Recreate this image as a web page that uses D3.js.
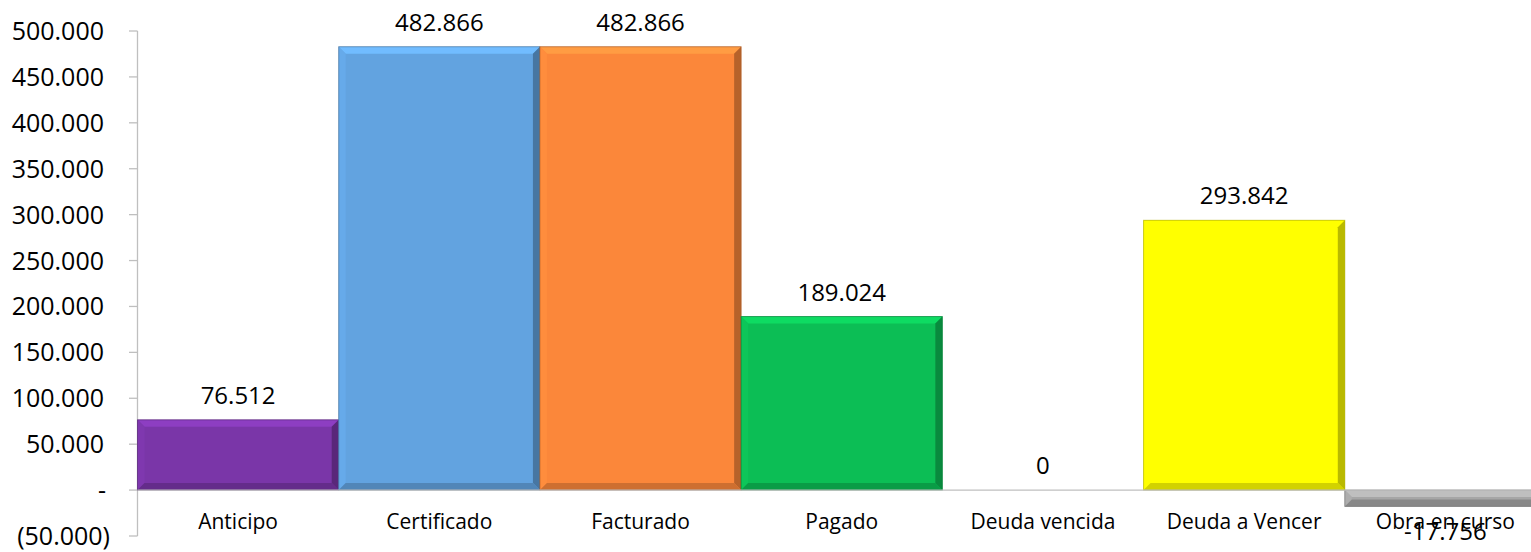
<!DOCTYPE html>
<html><head><meta charset="utf-8">
<script src="https://cdn.jsdelivr.net/npm/d3@7"></script>
<style>
html,body{margin:0;padding:0;background:#fff;overflow:hidden;}
text{font-family:"Open Sans",sans-serif;fill:#000;}
</style></head>
<body><svg id="c" width="1531" height="552"></svg>
<script>
const categories = ["Anticipo","Certificado","Facturado","Pagado","Deuda vencida","Deuda a Vencer","Obra en curso"];
const values = [76512, 482866, 482866, 189024, 0, 293842, -17756];
const colors = ["#7a36a8","#62a3e0","#fb873a","#0cbe55","#a6a6a6","#ffff00","#a6a6a6"];
const tickValues = [-50000,0,50000,100000,150000,200000,250000,300000,350000,400000,450000,500000];

const svg = d3.select("#c");
const x = d3.scaleBand().domain(categories).range([137.5, 1546]).padding(0);
const y = d3.scaleLinear().domain([-50000, 500000]).range([536, 31]);

const fmtNum = v => d3.format(",")(Math.abs(v)).replace(/,/g, ".");
const tickFmt = v => v === 0 ? "-" : (v < 0 ? "(" + fmtNum(v) + ")" : fmtNum(v));
const labelFmt = v => v === 0 ? "0" : (v < 0 ? "-" + fmtNum(v) : fmtNum(v));

// axis
const axisG = svg.append("g");
axisG.append("line").attr("x1", 137.5).attr("x2", 137.5).attr("y1", y(500000)).attr("y2", y(-50000))
  .attr("stroke", "#bfbfbf").attr("stroke-width", 1.3);
axisG.selectAll("line.tick").data(tickValues).enter().append("line")
  .attr("x1", 129).attr("x2", 137.5).attr("y1", d => y(d)).attr("y2", d => y(d))
  .attr("stroke", "#bfbfbf").attr("stroke-width", 1.3);
axisG.selectAll("text.tl").data(tickValues).enter().append("text")
  .attr("x", d => d < 0 ? 110 : (d === 0 ? 106 : 104))
  .attr("y", d => y(d)).attr("dy", "0.36em")
  .attr("text-anchor", "end").style("font-size", "25px")
  .text(tickFmt);

// bars with bevel
const bars = svg.append("g");
categories.forEach((c, i) => {
  const v = values[i];
  if (v === 0) return;
  const x0 = x(c), x1 = x(c) + x.bandwidth();
  const y0 = Math.min(y(v), y(0)), y1 = Math.max(y(v), y(0));
  const b = Math.min(7, (y1 - y0) / 2.2);
  const base = d3.color(colors[i]);
  const g = bars.append("g");
  g.append("rect").attr("x", x0).attr("y", y0).attr("width", x1 - x0).attr("height", y1 - y0).attr("fill", base);
  const poly = (pts, fill) => g.append("polygon").attr("points", pts.map(p => p.join(",")).join(" ")).attr("fill", fill);
  poly([[x0,y0],[x1,y0],[x1-b,y0+b],[x0+b,y0+b]], base.brighter(0.4));
  poly([[x0,y0],[x0+b,y0+b],[x0+b,y1-b],[x0,y1]], base.brighter(0.12));
  poly([[x1,y0],[x1,y1],[x1-b,y1-b],[x1-b,y0+b]], base.darker(0.9));
  poly([[x0,y1],[x0+b,y1-b],[x1-b,y1-b],[x1,y1]], base.darker(0.55));
  g.append("rect").attr("x", x0).attr("y", y0).attr("width", x1 - x0).attr("height", y1 - y0)
    .attr("fill", "none").attr("stroke", base.darker(1.2)).attr("stroke-opacity", 0.6).attr("stroke-width", 1);
});

// zero line
svg.append("line").attr("x1", 137.5).attr("x2", 1546).attr("y1", y(0)).attr("y2", y(0))
  .attr("stroke", "#bfbfbf").attr("stroke-width", 1.3);

// category labels
svg.selectAll("text.cat").data(categories).enter().append("text")
  .attr("x", d => x(d) + x.bandwidth() / 2).attr("y", 529)
  .attr("text-anchor", "middle").style("font-size", "21px").text(d => d);

// data labels
svg.selectAll("text.dl").data(values).enter().append("text")
  .attr("x", (d, i) => x(categories[i]) + x.bandwidth() / 2)
  .attr("y", d => d >= 0 ? y(d) - 16 : y(d) + 34)
  .attr("text-anchor", "middle").style("font-size", "24px").text(labelFmt);
</script></body></html>
